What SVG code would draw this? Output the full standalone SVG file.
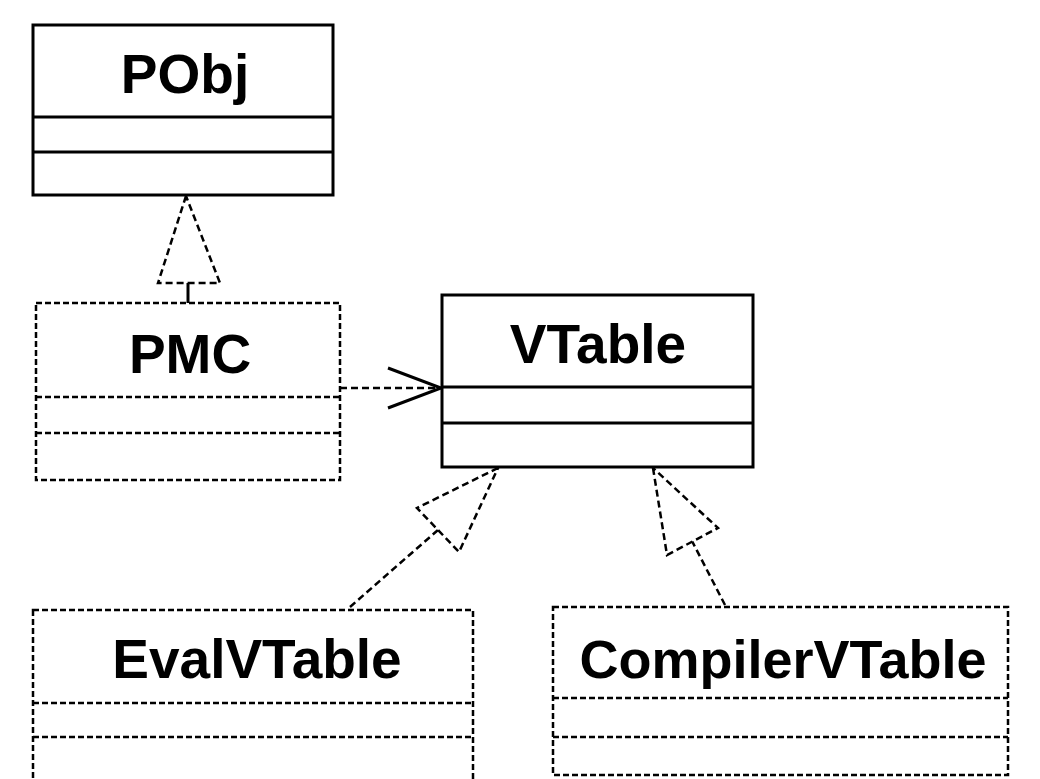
<svg xmlns="http://www.w3.org/2000/svg" width="1040" height="779" viewBox="0 0 1040 779">
<style>
.solid{fill:#fff;stroke:#000;stroke-width:3}
.dash{fill:#fff;stroke:#000;stroke-width:2.5;stroke-dasharray:6 3}
.sline{stroke:#000;stroke-width:3;fill:none}
.dline{stroke:#000;stroke-width:2.5;fill:none;stroke-dasharray:6 3}
.conn{stroke:#000;stroke-width:2.5;fill:none;stroke-dasharray:7 4}
.tri{stroke:#000;stroke-width:2.5;fill:#fff;stroke-dasharray:7 4}
.label{font-family:"Liberation Sans",Arial,sans-serif;font-weight:bold;font-size:55px;fill:#000;text-anchor:middle}
</style>
<rect width="1040" height="779" fill="#fff"/>
<g id="connectors">
  <!-- PMC realizes PObj -->
  <line class="sline" x1="188" y1="283" x2="188" y2="303"/>
  <polygon class="tri" points="186,196 158,283 220,283"/>
  <!-- PMC -> VTable dependency -->
  <line class="conn" x1="340" y1="388" x2="441" y2="388"/>
  <polyline class="sline" points="388,368 441,388 388,408" stroke-width="2.5"/>
  <!-- EvalVTable realizes VTable -->
  <line class="conn" x1="350" y1="607" x2="438" y2="530"/>
  <polygon class="tri" points="498,468 417,508 459,552"/>
  <!-- CompilerVTable realizes VTable -->
  <line class="conn" x1="725" y1="605" x2="692" y2="541"/>
  <polygon class="tri" points="653,468 667,555 718,528"/>
</g>
<g id="PObj">
  <rect class="solid" x="33" y="25" width="300" height="170"/>
  <line class="sline" x1="33" y1="117" x2="333" y2="117"/>
  <line class="sline" x1="33" y1="152" x2="333" y2="152"/>
  <text class="label" x="185" y="93">PObj</text>
</g>
<g id="PMC">
  <rect class="dash" x="36" y="303" width="304" height="177"/>
  <line class="dline" x1="36" y1="397" x2="340" y2="397"/>
  <line class="dline" x1="36" y1="433" x2="340" y2="433"/>
  <text class="label" x="190" y="373">PMC</text>
</g>
<g id="VTable">
  <rect class="solid" x="442" y="295" width="311" height="172"/>
  <line class="sline" x1="442" y1="387" x2="753" y2="387"/>
  <line class="sline" x1="442" y1="423" x2="753" y2="423"/>
  <text class="label" x="598" y="363">VTable</text>
</g>
<g id="EvalVTable">
  <rect class="dash" x="33" y="610" width="440" height="175"/>
  <line class="dline" x1="33" y1="703" x2="473" y2="703"/>
  <line class="dline" x1="33" y1="737" x2="473" y2="737"/>
  <text class="label" x="257" y="678">EvalVTable</text>
</g>
<g id="CompilerVTable">
  <rect class="dash" x="553" y="607" width="455" height="168"/>
  <line class="dline" x1="553" y1="698" x2="1008" y2="698"/>
  <line class="dline" x1="553" y1="737" x2="1008" y2="737"/>
  <text class="label" x="783" y="678" style="font-size:54px">CompilerVTable</text>
</g>
</svg>
